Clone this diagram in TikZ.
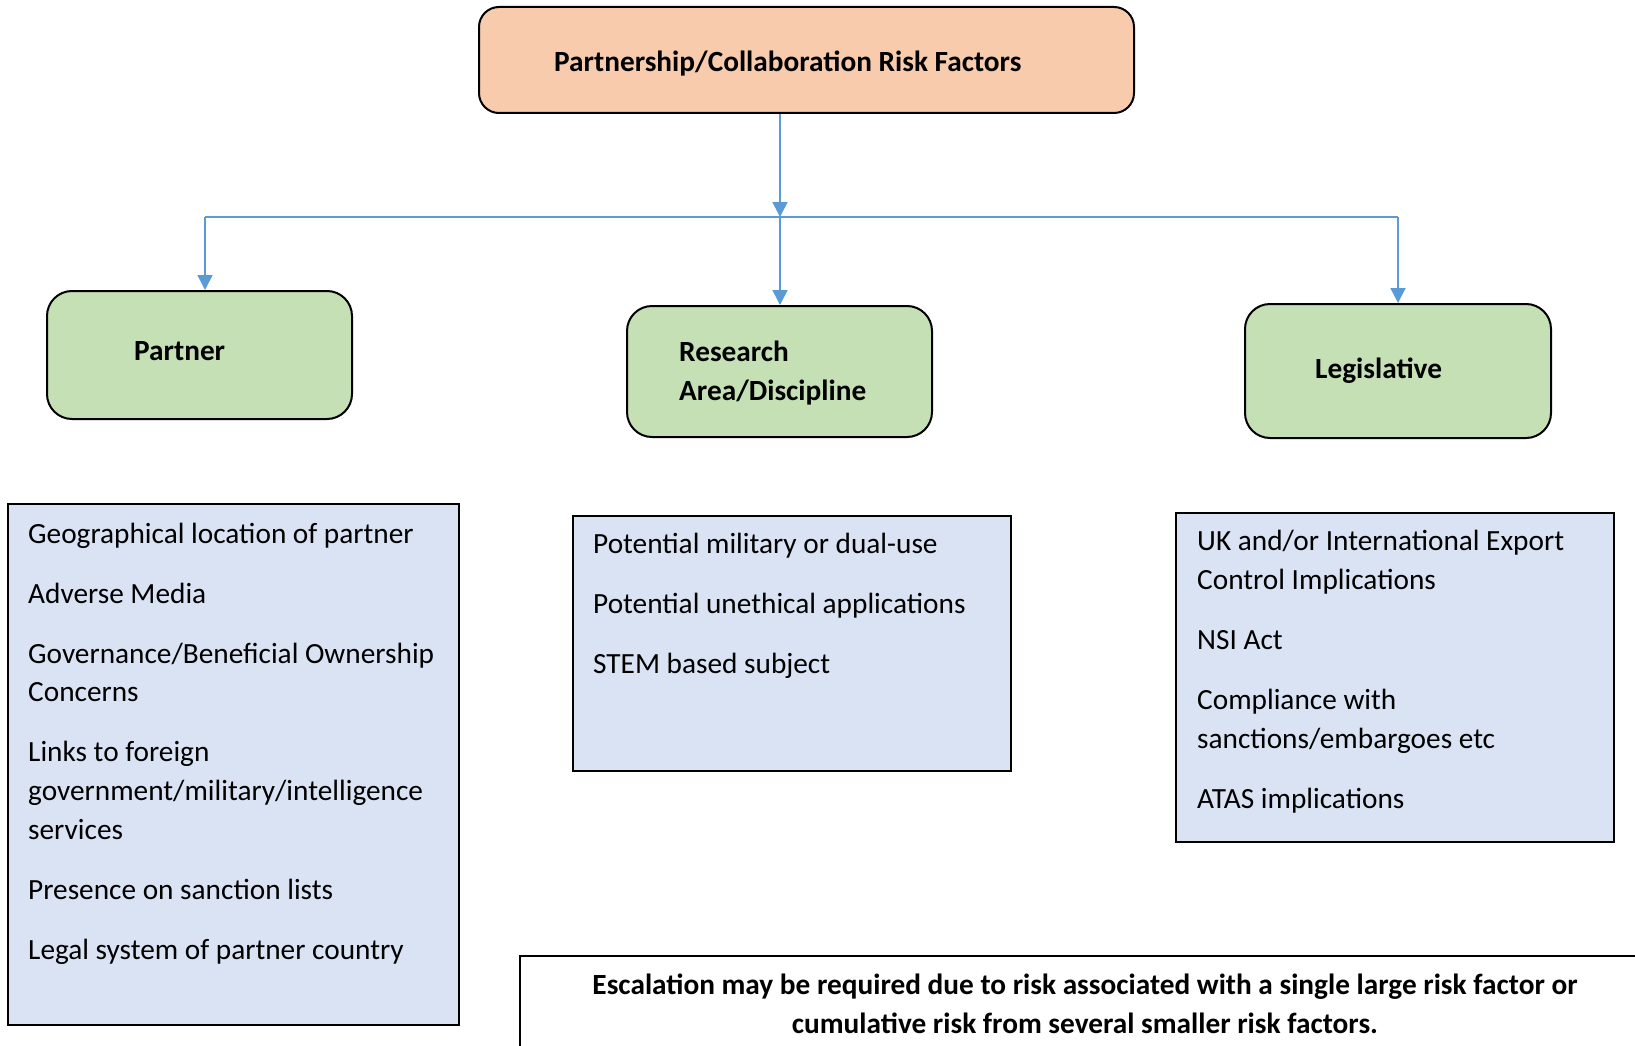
\documentclass[tikz,border=0pt]{standalone}
\usepackage{fontspec}
\setmainfont{Carlito}
\usetikzlibrary{arrows.meta}

\definecolor{peach}{HTML}{F8CBAD}
\definecolor{sage}{HTML}{C5E0B4}
\definecolor{pale}{HTML}{DAE3F3}
\definecolor{wireblue}{HTML}{5B9BD5}

\begin{document}
\begin{tikzpicture}[x=1pt, y=-1pt,
    every node/.style={inner sep=0pt, font=\fontsize{29.3}{38.6}\selectfont},
    head/.style={draw=black, line width=2pt, rounded corners=20pt, fill=peach},
    cat/.style={draw=black, line width=2pt, rounded corners=25pt, fill=sage},
    list/.style={draw=black, line width=2pt, fill=pale},
    heading/.style={font=\fontsize{29.3}{38.6}\selectfont\bfseries, align=left, anchor=base west},
    items/.style={align=left, anchor=base west},
    link/.style={draw=wireblue, line width=1.6pt, -{Triangle[length=15pt, width=15pt]}}]
            \useasboundingbox (0,0) rectangle (1635,1046);
            \clip (0,0) rectangle (1635,1046);
            % top box
            \node[head, minimum width=655pt, minimum height=106pt] (top) at (806.5,60) {};
            \node[heading] (toptext) at (554,72) {Partnership/Collaboration Risk Factors};
            % three categories (multi-line texts sit on their last baseline)
            \node[cat, minimum width=305pt, minimum height=128pt] (partner) at (199.5,355) {};
            \node[heading] (partnertext) at (134,360) {Partner};
            \node[cat, minimum width=305pt, minimum height=131pt] (research) at (779.5,371.5) {};
            \node[heading] (researchtext) at (679,400) {Research\\Area/Discipline};
            \node[cat, minimum width=306pt, minimum height=134pt] (legis) at (1398,371) {};
            \node[heading] (legistext) at (1315,378) {Legislative};
            % connectors
            \coordinate (hub) at (780,217);
            \draw[link] (top.south -| hub) -- (hub);
            \draw[wireblue, line width=1.6pt] (hub -| 205,0) -- (hub -| legis.north);
            \draw[link] (hub -| 205,0) -- (partner.north -| 205,0);
            \draw[link] (hub) -- (research.north -| hub);
            \draw[link] (hub -| legis.north) -- (legis.north);
            % lists
            \node[list, minimum width=451pt, minimum height=521pt] (plist) at (233.5,764.5) {};
            \node[items] (ptext) at (28,959) {Geographical location of partner\\[21.4pt]
                  Adverse Media\\[21.4pt]
                  Governance/Beneficial Ownership\\Concerns\\[21.4pt]
                  Links to foreign\\government/military/intelligence\\services\\[21.4pt]
                  Presence on sanction lists\\[21.4pt]
                  Legal system of partner country};
            \node[list, minimum width=438pt, minimum height=255pt] (rlist) at (792,643.5) {};
            \node[items] (rtext) at (593,673) {Potential military or dual-use\\[21.4pt]
                  Potential unethical applications\\[21.4pt]
                  STEM based subject};
            \node[list, minimum width=438pt, minimum height=329pt] (llist) at (1395,677.5) {};
            \node[items] (ltext) at (1197,808) {UK and/or International Export\\Control Implications\\[21.4pt]
                  NSI Act\\[21.4pt]
                  Compliance with\\sanctions/embargoes etc\\[21.4pt]
                  ATAS implications};
            % escalation note
            \node[draw=black, line width=1.5pt, fill=white, minimum width=1200pt, minimum height=200pt] (note) at (1120,1056) {};
            \node[font=\fontsize{29.3}{38.6}\selectfont\bfseries, align=center, anchor=base] (notetext) at (1085,1033)
                  {Escalation may be required due to risk associated with a single large risk factor or\\
                   cumulative risk from several smaller risk factors.};
        \end{tikzpicture}
\end{document}
